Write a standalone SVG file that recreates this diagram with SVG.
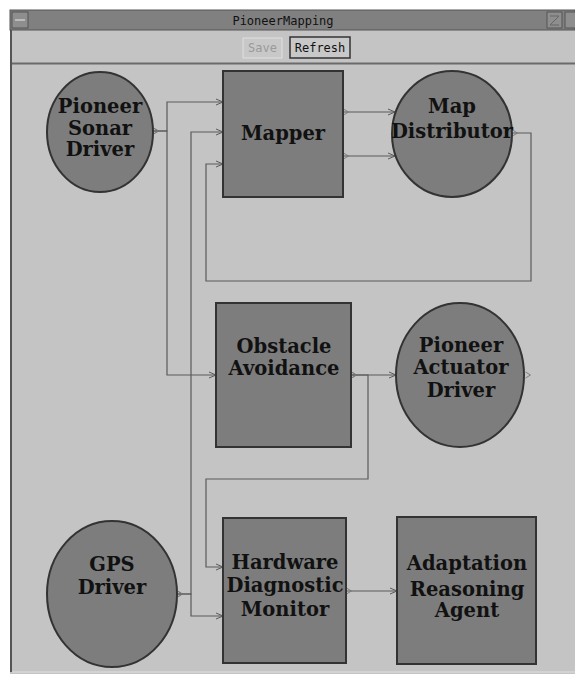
<svg xmlns="http://www.w3.org/2000/svg" width="575" height="674" viewBox="0 0 575 674">
<style>
.node{fill:#7d7d7d;stroke:#333;stroke-width:2}
.lbl{font-family:"DejaVu Serif",serif;font-weight:bold;font-size:19.5px;fill:#111;text-anchor:middle}
.wire{fill:none;stroke:#5a5a5a;stroke-width:1.2;marker-start:url(#port);marker-end:url(#arr)}
.ui{font-family:"DejaVu Sans Mono","Liberation Mono",monospace;font-size:12px;text-anchor:middle}
</style>
<defs>
<marker id="arr" markerUnits="userSpaceOnUse" markerWidth="9" markerHeight="9" viewBox="0 0 9 9" refX="8" refY="4.5" orient="auto">
<path d="M1,1.5 L8,4.5 L1,7.5" fill="none" stroke="#5a5a5a" stroke-width="1"/>
</marker>
<marker id="port" markerUnits="userSpaceOnUse" markerWidth="9" markerHeight="9" viewBox="0 0 9 9" refX="0.5" refY="4.5" orient="auto">
<path d="M1,1.5 L6,4.5 L1,7.5" fill="none" stroke="#777" stroke-width="0.9"/>
</marker>
</defs>
<rect x="0" y="0" width="575" height="674" fill="#ffffff"/>
<g id="window">
<rect x="10" y="10" width="565" height="664" fill="#c4c4c4"/>
<rect x="10" y="10" width="565" height="20" fill="#808080" stroke="#555" stroke-width="1"/>
<rect x="12" y="12" width="16" height="16" fill="#8e8e8e" stroke="#555" stroke-width="1"/>
<line x1="15" y1="20" x2="25" y2="20" stroke="#bbb" stroke-width="2"/>
<rect x="547" y="12" width="15" height="16" fill="#8e8e8e" stroke="#555" stroke-width="1"/>
<path d="M550,16 H559 L550,25 H559" fill="none" stroke="#666" stroke-width="1"/>
<rect x="565" y="12" width="12" height="16" fill="#8e8e8e" stroke="#555" stroke-width="1"/>
<text x="283" y="25" class="ui" font-size="11px" fill="#111">PioneerMapping</text>
<rect x="243" y="38" width="39" height="20" fill="#c8c8c8" stroke="#e0e0e0" stroke-width="1"/>
<text x="262.5" y="52" class="ui" fill="#9a9a9a">Save</text>
<rect x="290" y="37" width="60" height="21" fill="#c8c8c8" stroke="#333" stroke-width="1.5"/>
<text x="320" y="52" class="ui" fill="#111">Refresh</text>
<line x1="10" y1="63.5" x2="575" y2="63.5" stroke="#6a6a6a" stroke-width="2"/>
<line x1="11" y1="30" x2="11" y2="672" stroke="#555" stroke-width="2"/>
<line x1="12" y1="672" x2="575" y2="672" stroke="#e0e0e0" stroke-width="1"/>
</g>
<g id="connectors">
<path class="wire" d="M153,131 H167 V102 H223"/>
<path class="wire" d="M153,131 H167 V375 H216"/>
<path class="wire" d="M343,112 H395"/>
<path class="wire" d="M343,156 H395"/>
<path class="wire" d="M512,133 H531 V281 H206 V164 H223"/>
<path class="wire" d="M177,594 H191 V132 H223"/>
<path class="wire" d="M177,594 H191 V616 H223"/>
<path class="wire" d="M351,375 H396"/>
<path class="wire" d="M351,375 H368 V479 H206 V567 H223"/>
<path class="wire" d="M346,591 H397"/>
<path d="M525.5,372 L530.5,375 L525.5,378" fill="none" stroke="#777" stroke-width="0.9"/>
</g>
<g id="sonar">
<ellipse class="node" cx="100" cy="132" rx="53" ry="60"/>
<text class="lbl" x="100" y="113">Pioneer</text>
<text class="lbl" x="100" y="135">Sonar</text>
<text class="lbl" x="100" y="156">Driver</text>
</g>
<g id="mapper">
<rect class="node" x="223" y="71" width="120" height="126"/>
<text class="lbl" x="283" y="140">Mapper</text>
</g>
<g id="mapdist">
<ellipse class="node" cx="452" cy="134" rx="60" ry="63"/>
<text class="lbl" x="452" y="113">Map</text>
<text class="lbl" x="452" y="138">Distributor</text>
</g>
<g id="obstacle">
<rect class="node" x="216" y="303" width="135" height="144"/>
<text class="lbl" x="284" y="353">Obstacle</text>
<text class="lbl" x="284" y="375">Avoidance</text>
</g>
<g id="actuator">
<ellipse class="node" cx="460" cy="375" rx="64" ry="72"/>
<text class="lbl" x="461" y="352">Pioneer</text>
<text class="lbl" x="461" y="374">Actuator</text>
<text class="lbl" x="461" y="397">Driver</text>
</g>
<g id="gps">
<ellipse class="node" cx="112" cy="594" rx="65" ry="73"/>
<text class="lbl" x="112" y="571">GPS</text>
<text class="lbl" x="112" y="594">Driver</text>
</g>
<g id="hdm">
<rect class="node" x="223" y="518" width="123" height="145"/>
<text class="lbl" x="285" y="569">Hardware</text>
<text class="lbl" x="285" y="592">Diagnostic</text>
<text class="lbl" x="285" y="616">Monitor</text>
</g>
<g id="ara">
<rect class="node" x="397" y="517" width="139" height="147"/>
<text class="lbl" x="467" y="570">Adaptation</text>
<text class="lbl" x="467" y="596">Reasoning</text>
<text class="lbl" x="467" y="617">Agent</text>
</g>
</svg>
